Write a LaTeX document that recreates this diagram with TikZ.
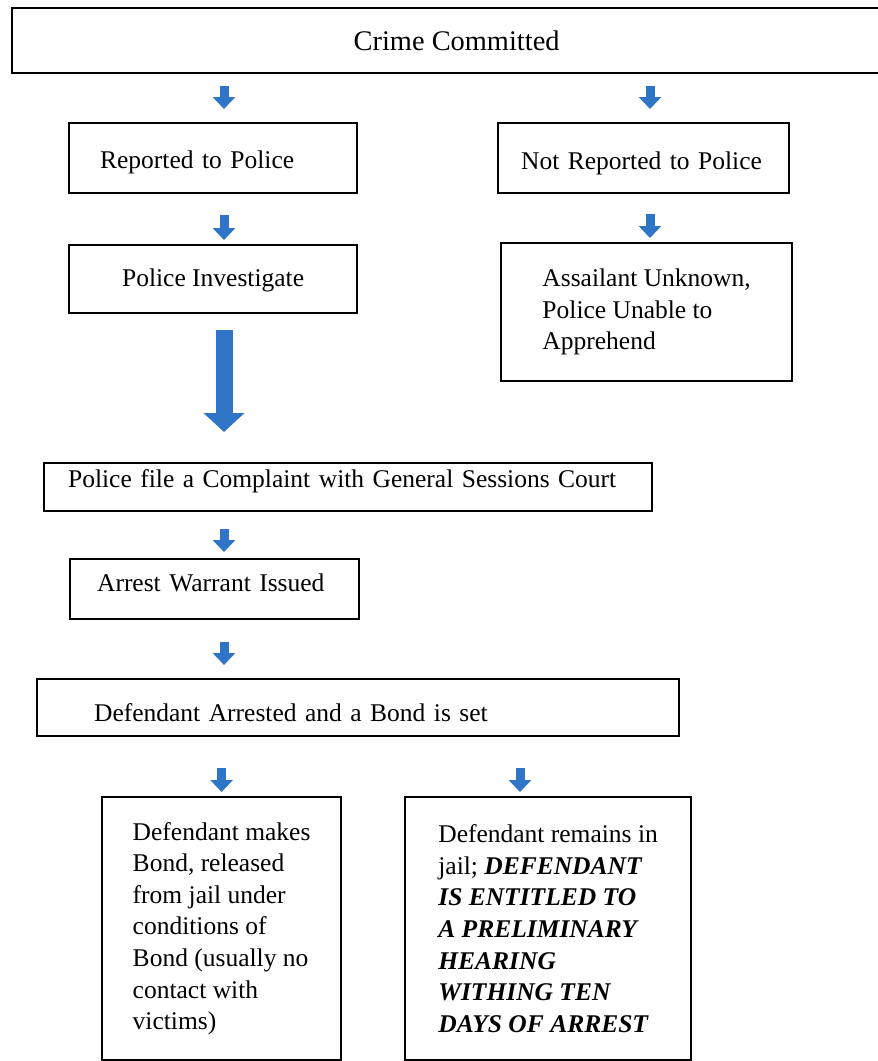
\documentclass[tikz,border=0pt]{standalone}
\usepackage{fontspec}
\setmainfont{Liberation Serif}
\usetikzlibrary{arrows.meta}
\definecolor{flowblue}{RGB}{46,117,200}
\tikzset{
  stepbox/.style={draw, line width=1.1pt, anchor=north west, inner sep=0pt, font=\fontsize{12.75}{15.8}\selectfont},
  oneline/.style={align=left, text depth=3pt},
  flowarrow/.style={flowblue, line width=4.5pt, -{Triangle[width=11pt,length=6pt]}},
  bigarrow/.style={flowblue, line width=8.5pt, -{Triangle[width=20pt,length=9.5pt]}}
}

\begin{document}
\begin{tikzpicture}[x=0.5pt,y=-0.5pt]
\useasboundingbox (0,0) rectangle (878,1061);
\node (crime) [stepbox, minimum width=444.5pt, minimum height=32.5pt, text height=12.9pt, text depth=3pt, font=\fontsize{14.2}{17}\selectfont] at (11,7) {Crime Committed};
\node (rep) [stepbox, oneline, minimum width=144pt, minimum height=35pt, inner xsep=15.5pt, text width=113pt, text height=13.4pt] at (68,122) {Reported to Police};
\node (notrep) [stepbox, oneline, minimum width=145.5pt, minimum height=35pt, inner xsep=11.5pt, text width=122.5pt, text height=14.4pt] at (497,122) {Not Reported to Police};
\node (invest) [stepbox, minimum width=144pt, minimum height=34pt, text height=10.4pt, text depth=3pt] at (68,244) {Police Investigate};
\node (assail) [stepbox, align=left, minimum width=145.5pt, minimum height=69pt] at (500,242) {Assailant Unknown,\\Police Unable to\\Apprehend};
\node (complaint) [stepbox, oneline, minimum width=304pt, minimum height=24pt, inner xsep=12pt, text width=280pt, text height=3.4pt] at (43,462) {Police file a Complaint with General Sessions Court};
\node (warrant) [stepbox, oneline, minimum width=144.5pt, minimum height=30pt, inner xsep=13.5pt, text width=117.5pt, text height=5.4pt] at (69,558) {Arrest Warrant Issued};
\node (defarr) [stepbox, oneline, minimum width=321pt, minimum height=28.5pt, inner xsep=28.5pt, text width=264pt, text height=16.9pt] at (36,678) {Defendant Arrested and a Bond is set};
\node (bondout) [stepbox, align=left, minimum width=119.5pt, minimum height=131.5pt] at (101,796) {Defendant makes\\Bond, released\\from jail under\\conditions of\\Bond (usually no\\contact with\\victims)};
\node (jail) [stepbox, align=left, minimum width=143pt, minimum height=131.5pt] at (404,796) {Defendant remains in\\jail; \textbf{\textit{DEFENDANT}}\\\textbf{\textit{IS ENTITLED TO}}\\\textbf{\textit{A PRELIMINARY}}\\\textbf{\textit{HEARING}}\\\textbf{\textit{WITHING TEN}}\\\textbf{\textit{DAYS OF ARREST}}};
\coordinate (lcol) at (224,0);
\coordinate (rcol) at (650,0);
\coordinate (jcol) at (520,0);
\draw [flowarrow, shorten <=6pt, shorten >=6.5pt] (crime.south -| lcol) -- (rep.north -| lcol);
\draw [flowarrow, shorten <=6pt, shorten >=6.5pt] (crime.south -| rcol) -- (notrep.north -| rcol);
\draw [flowarrow, shorten <=10.5pt, shorten >=2pt] (rep.south -| lcol) -- (invest.north -| lcol);
\draw [flowarrow, shorten <=10pt, shorten >=2pt] (notrep.south -| rcol) -- (assail.north -| rcol);
\draw [bigarrow, shorten <=8pt, shorten >=15pt] (invest.south -| lcol) -- (complaint.north -| lcol);
\draw [flowarrow, shorten <=8.5pt, shorten >=3pt] (complaint.south -| lcol) -- (warrant.north -| lcol);
\draw [flowarrow, shorten <=11pt, shorten >=6.5pt] (warrant.south -| lcol) -- (defarr.north -| lcol);
\draw [flowarrow, shorten <=15.5pt, shorten >=2pt] (defarr.south -| bondout.north) -- (bondout.north);
\draw [flowarrow, shorten <=15.5pt, shorten >=2pt] (defarr.south -| jcol) -- (jail.north -| jcol);
\end{tikzpicture}
\end{document}
